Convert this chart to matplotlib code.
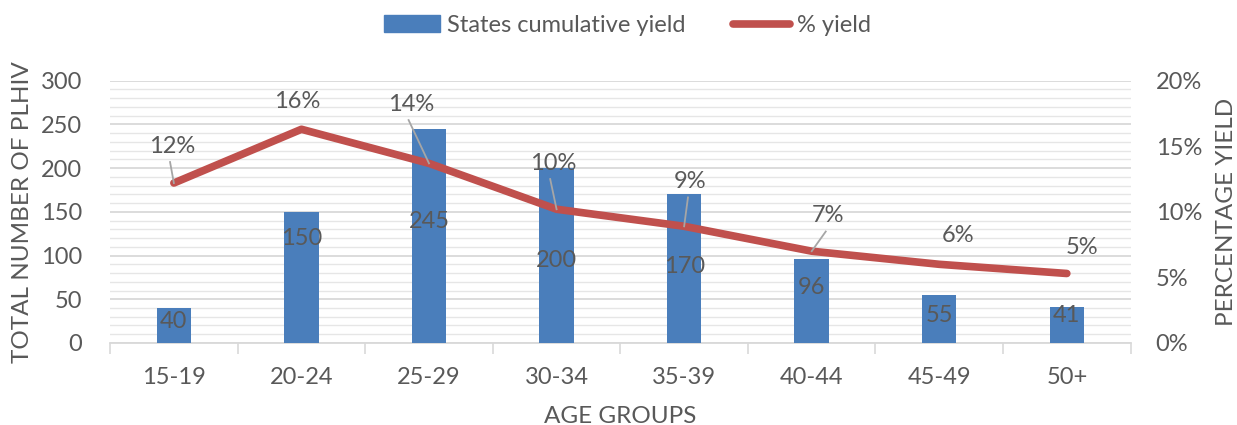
import numpy as np
import matplotlib
matplotlib.use("Agg")
import matplotlib.pyplot as plt
from matplotlib.lines import Line2D
from matplotlib.patches import Patch

age_groups = ["15-19", "20-24", "25-29", "30-34", "35-39", "40-44", "45-49", "50+"]
plhiv = [40, 150, 245, 200, 170, 96, 55, 41]
pct_yield = [12.2, 16.3, 13.7, 10.2, 8.9, 7.0, 6.0, 5.3]
pct_labels = ["12%", "16%", "14%", "10%", "9%", "7%", "6%", "5%"]
# label positions (data units) as placed in the original chart
bar_label_y = [24, 120, 139, 94, 88, 63, 31, 31]
pct_label_xy = [(-0.01, 15.0), (0.97, 18.4), (1.86, 18.2), (2.97, 13.7), (4.05, 12.3),
                (5.13, 9.7), (6.15, 8.2), (7.12, 7.3)]
leader = [True, False, True, True, True, True, False, False]

grey = "#595959"
blue = "#4a7ebb"
red = "#c0504d"

plt.rcParams['font.family'] = ['Lato', 'DejaVu Sans']
fs = 17
fs_lab = 17.5

fig, ax1 = plt.subplots(figsize=(12.37, 4.25), dpi=100)
fig.subplots_adjust(left=0.089, right=0.914, top=0.81, bottom=0.193)

x = np.arange(len(age_groups))
ax1.bar(x, plhiv, width=0.27, color=blue, zorder=3)
ax1.set_ylim(0, 300)
ax1.set_xlim(-0.5, len(age_groups) - 0.5)
ax1.set_yticks(range(0, 301, 50))
ax1.set_yticks(range(0, 301, 10), minor=True)
ax1.grid(axis='y', which='major', color='#d9d9d9', lw=1.3, zorder=0)
ax1.grid(axis='y', which='minor', color='#e6e6e6', lw=1.0, zorder=0)
ax1.set_axisbelow(True)
ax1.set_xticks(x)
ax1.set_xticklabels(age_groups)
ax1.set_xticks(np.arange(-0.5, len(age_groups), 1), minor=True)
ax1.tick_params(axis='x', which='major', length=0, pad=17, labelsize=fs, labelcolor=grey)
ax1.tick_params(axis='x', which='minor', length=8, color='#d9d9d9', width=1.2)
ax1.tick_params(axis='y', which='both', length=0, labelsize=fs, labelcolor=grey, pad=20)
for s in ['top', 'right', 'left']:
    ax1.spines[s].set_visible(False)
ax1.spines['bottom'].set_color('#d9d9d9')
ax1.spines['bottom'].set_linewidth(1.3)
ax1.set_ylabel("TOTAL NUMBER OF PLHIV", color=grey, fontsize=fs_lab, labelpad=6)
ax1.set_xlabel("AGE GROUPS", color=grey, fontsize=fs_lab, labelpad=13)

for xi, yi, v in zip(x, bar_label_y, plhiv):
    ax1.text(xi, yi, str(v), ha='center', va='center', fontsize=fs, color=grey, zorder=6)

ax2 = ax1.twinx()
ax2.plot(x, pct_yield, color=red, lw=5.5, solid_capstyle='round', zorder=4)
ax2.set_ylim(0, 20)
ax2.set_yticks(range(0, 21, 5))
ax2.set_yticklabels([f"{v}%" for v in range(0, 21, 5)])
ax2.tick_params(axis='y', length=0, labelsize=fs, labelcolor=grey, pad=18)
for s in ax2.spines.values():
    s.set_visible(False)
ax2.set_ylabel("PERCENTAGE YIELD", color=grey, fontsize=fs_lab, labelpad=10)

for i, (lx, ly) in enumerate(pct_label_xy):
    ax2.text(lx, ly, pct_labels[i], ha='center', va='center', fontsize=fs, color=grey, zorder=6)
    if leader[i]:
        ax2.plot([lx - 0.02, x[i]], [ly - 1.2, pct_yield[i]], color='#a6a6a6', lw=1.3, zorder=5)

handles = [Patch(color=blue), Line2D([0], [0], color=red, lw=5.5, solid_capstyle='round')]
fig.legend(handles, ["States cumulative yield", "% yield"], loc='upper center',
           bbox_to_anchor=(0.507, 1.015), ncol=2, frameon=False, fontsize=fs,
           labelcolor=grey, handlelength=2.4, handletextpad=0.3, columnspacing=2.0)

fig.savefig("out.png", dpi=100)
